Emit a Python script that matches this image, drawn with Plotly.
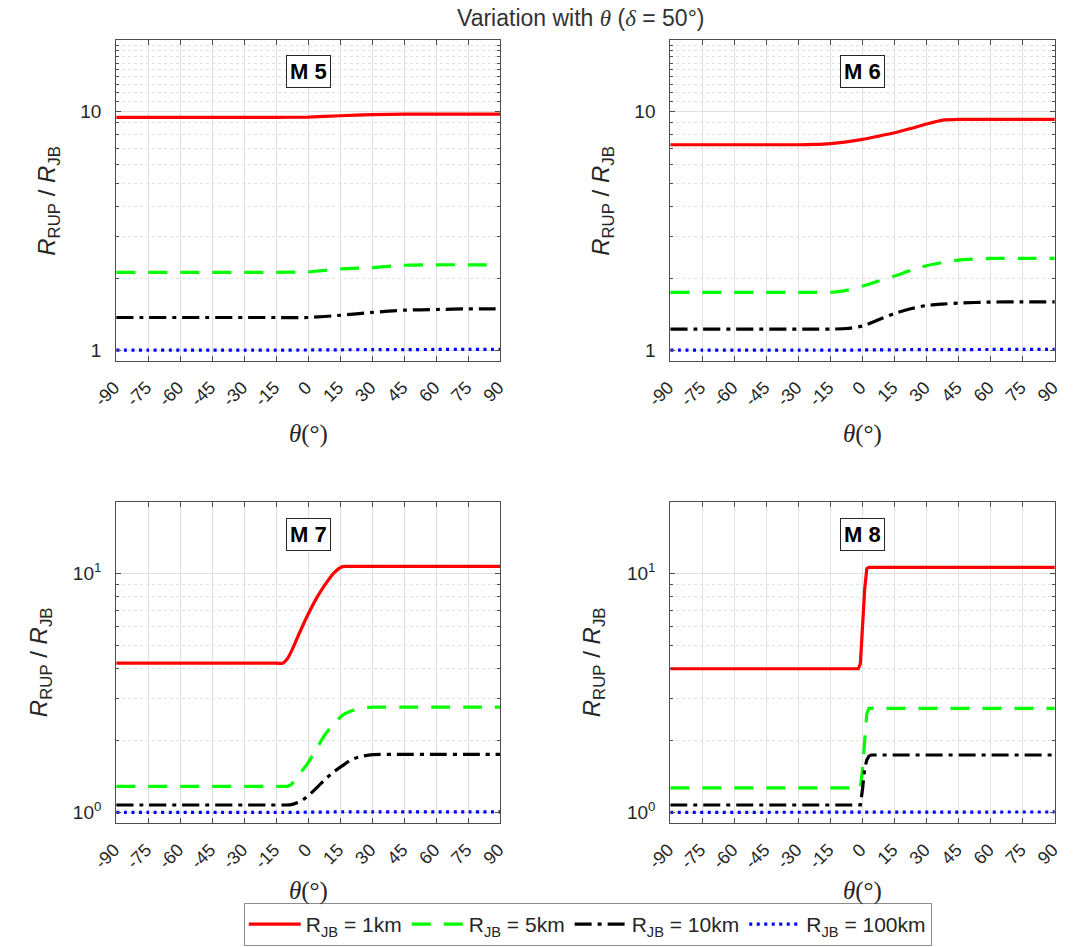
import math
import plotly.graph_objects as go

W, H = 1078, 947

# ---- data -------------------------------------------------------------
THETA_TICKS = [-90, -75, -60, -45, -30, -15, 0, 15, 30, 45, 60, 75, 90]
PANEL_TITLES = ["M 5", "M 6", "M 7", "M 8"]
SERIES_NAMES = ["R<sub>JB</sub> = 1km", "R<sub>JB</sub> = 5km",
                "R<sub>JB</sub> = 10km", "R<sub>JB</sub> = 100km"]

M5_THETA = [-90, -75, -60, -45, -30, -15, 0, 15, 30, 45, 60, 75, 90]
M5_R1 = [9.47, 9.47, 9.47, 9.47, 9.47, 9.47, 9.50, 9.62, 9.72, 9.77, 9.78, 9.78, 9.78]
M5_R5 = [2.12, 2.12, 2.12, 2.12, 2.12, 2.12, 2.13, 2.19, 2.22, 2.27, 2.28, 2.28, 2.28]
M5_R10 = [1.37, 1.37, 1.37, 1.37, 1.37, 1.37, 1.37, 1.40, 1.44, 1.47, 1.48, 1.49, 1.49]
M5_R100 = [1.0, 1.0, 1.0, 1.0, 1.0, 1.0, 1.001, 1.003, 1.004, 1.005, 1.006, 1.006, 1.006]

M6_THETA = [-90, -75, -60, -45, -30, -22.5, -15, -7.5, 0, 7.5, 15, 22.5, 30, 37.5, 45, 60, 75, 90]
M6_R1 = [7.27, 7.27, 7.27, 7.27, 7.27, 7.29, 7.35, 7.48, 7.66, 7.90, 8.16, 8.50, 8.88, 9.22, 9.29, 9.29, 9.29, 9.29]
M6_R5 = [1.746, 1.746, 1.746, 1.746, 1.746, 1.746, 1.746, 1.78, 1.856, 1.95, 2.045, 2.16, 2.26, 2.33, 2.386, 2.425, 2.425, 2.425]
M6_R10 = [1.225, 1.225, 1.225, 1.225, 1.225, 1.225, 1.225, 1.232, 1.261, 1.34, 1.426, 1.49, 1.54, 1.56, 1.575, 1.59, 1.593, 1.593]
M6_R100 = [1.0, 1.0, 1.0, 1.0, 1.0, 1.0, 1.0, 1.0, 1.001, 1.002, 1.003, 1.004, 1.004, 1.005, 1.005, 1.006, 1.006, 1.006]

M7_THETA = [-90, -75, -60, -45, -30, -15, -12, -10, -8, -4, 0, 4, 8, 12, 16, 20, 24, 30, 45, 60, 75, 90]
M7_R1 = [4.22, 4.22, 4.22, 4.22, 4.22, 4.22, 4.22, 4.38, 4.72, 5.69, 6.80, 7.95, 9.05, 10.1, 10.72, 10.74, 10.74, 10.74, 10.74, 10.74, 10.74, 10.74]
M7_R5 = [1.285, 1.285, 1.285, 1.285, 1.285, 1.285, 1.285, 1.285, 1.31, 1.45, 1.62, 1.86, 2.13, 2.36, 2.55, 2.66, 2.72, 2.76, 2.76, 2.76, 2.76, 2.76]
M7_R10 = [1.074, 1.074, 1.074, 1.074, 1.074, 1.074, 1.074, 1.074, 1.078, 1.109, 1.175, 1.27, 1.38, 1.48, 1.57, 1.66, 1.71, 1.746, 1.75, 1.75, 1.75, 1.75]
M7_R100 = [1.0, 1.0, 1.0, 1.0, 1.0, 1.0, 1.0, 1.0, 1.0, 1.001, 1.002, 1.003, 1.003, 1.004, 1.004, 1.005, 1.005, 1.005, 1.005, 1.005, 1.005, 1.005]

M8_THETA = [-90, -75, -60, -45, -30, -15, -2, -1, 0, 1, 2, 3, 4, 15, 30, 45, 60, 75, 90]
M8_R1 = [4.0, 4.0, 4.0, 4.0, 4.0, 4.0, 4.0, 4.2, 6.27, 8.6, 10.5, 10.65, 10.65, 10.65, 10.65, 10.65, 10.65, 10.65, 10.65]
M8_R5 = [1.266, 1.266, 1.266, 1.266, 1.266, 1.266, 1.266, 1.266, 1.52, 2.1, 2.59, 2.73, 2.73, 2.73, 2.73, 2.73, 2.73, 2.73, 2.73]
M8_R10 = [1.074, 1.074, 1.074, 1.074, 1.074, 1.074, 1.074, 1.074, 1.253, 1.52, 1.66, 1.72, 1.74, 1.74, 1.74, 1.74, 1.74, 1.74, 1.74]
M8_R100 = [1.0, 1.0, 1.0, 1.0, 1.0, 1.0, 1.0, 1.0, 1.002, 1.003, 1.003, 1.003, 1.004, 1.004, 1.004, 1.004, 1.004, 1.004, 1.004]

PANELS = [
    (M5_THETA, [M5_R1, M5_R5, M5_R10, M5_R100], "spline"),
    (M6_THETA, [M6_R1, M6_R5, M6_R10, M6_R100], "spline"),
    (M7_THETA, [M7_R1, M7_R5, M7_R10, M7_R100], "spline"),
    (M8_THETA, [M8_R1, M8_R5, M8_R10, M8_R100], "linear"),
]

# ---- styling ----------------------------------------------------------
LINE_STYLES = [
    dict(color="#ff0000", width=3.2, dash="solid"),
    dict(color="#00ff00", width=3.2, dash="19px,13px"),
    dict(color="#000000", width=3.2, dash="17px,6px,4px,6px"),
    dict(color="#0000ff", width=3.2, dash="3px,4.5px"),
]

AXIS_COL = "#4d4d4d"
TEXT_COL = "#262626"
GRID_COL = "#e0e0e0"
FONT = "Liberation Sans, Arial, sans-serif"
SERIF = "Liberation Serif, Times New Roman, serif"

# pixel boxes of the four plot areas: (left, right, top, bottom)
BOXES = [
    (94, 490, 40, 361),
    (665, 1061.3, 40, 361),
    (94, 490, 502, 823.3),
    (665, 1061.3, 502, 823.3),
]
YTITLE_X = [24, 595, 16, 586]
XTITLE_Y = [434, 434, 891, 891]

Y_RANGE = [math.log10(0.9), math.log10(20)]
MINOR_TOP = [2, 3, 4, 5, 6, 7, 8, 9, 11, 12, 13, 14, 15, 16, 17, 18, 19]
MINOR_BOTTOM = [2, 3, 4, 5, 6, 7, 8, 9]


def px_x(x):
    return x / W


def px_y(y):
    return 1 - y / H


def serif_italic(s):
    return f"<span style='font-family:{SERIF}'><i>{s}</i></span>"


fig = go.Figure()

for i, (theta, series, shape) in enumerate(PANELS):
    n = i + 1
    xa = "x" if n == 1 else f"x{n}"
    ya = "y" if n == 1 else f"y{n}"
    for j, vals in enumerate(series):
        line = dict(shape=shape, **LINE_STYLES[j])
        if shape == "spline":
            line["smoothing"] = 0.6
        fig.add_trace(go.Scatter(
            x=theta, y=vals, mode="lines", name=SERIES_NAMES[j], line=line,
            xaxis=xa, yaxis=ya, legendgroup=str(j), showlegend=(i == 0),
            hoverinfo="skip",
        ))

    l, r, t, b = BOXES[i]
    top_row = i < 2
    xkey = "xaxis" if n == 1 else f"xaxis{n}"
    ykey = "yaxis" if n == 1 else f"yaxis{n}"
    fig.update_layout(**{
        xkey: dict(
            domain=[px_x(l), px_x(r)], anchor=ya, range=[-90, 90],
            tickmode="array", tickvals=THETA_TICKS,
            ticktext=[str(v) for v in THETA_TICKS],
            tickangle=-45, ticks="inside", ticklen=5, tickcolor=AXIS_COL,
            ticklabelshift=-2, ticklabelstandoff=8,
            showline=True, linecolor=AXIS_COL, linewidth=1, mirror="ticks",
            showgrid=True, gridcolor=GRID_COL, gridwidth=1, zeroline=False,
            tickfont=dict(family=FONT, size=18, color=TEXT_COL),
            fixedrange=True,
        ),
        ykey: dict(
            domain=[px_y(b), px_y(t)], anchor=xa, type="log", range=Y_RANGE,
            tickmode="array", tickvals=[1, 10],
            ticktext=(["1", "10"] if top_row else ["10<sup>0</sup>", "10<sup>1</sup>"]),
            ticks="inside", ticklen=5, tickcolor=AXIS_COL,
            ticklabelstandoff=10,
            showline=True, linecolor=AXIS_COL, linewidth=1, mirror="ticks",
            showgrid=True, gridcolor=GRID_COL, gridwidth=1, zeroline=False,
            minor=dict(tickmode="array",
                       tickvals=MINOR_TOP if top_row else MINOR_BOTTOM,
                       ticks="inside", ticklen=3, tickcolor=AXIS_COL,
                       showgrid=True, gridcolor=GRID_COL, griddash="dot", gridwidth=1),
            tickfont=dict(family=FONT, size=19, color=TEXT_COL),
            fixedrange=True,
        ),
    })

    # magnitude label box
    fig.add_annotation(
        x=(l + r) / 2 / W, y=px_y(t + 32), xref="paper", yref="paper",
        text=f"<b>{PANEL_TITLES[i]}</b>", showarrow=False,
        font=dict(family=FONT, size=22, color="#000000"),
        bgcolor="#ffffff", bordercolor="#262626", borderwidth=1, borderpad=3,
        xanchor="center", yanchor="middle",
    )
    # y-axis title
    fig.add_annotation(
        x=px_x(YTITLE_X[i]), y=px_y((t + b) / 2), xref="paper", yref="paper",
        text="<i>R</i><sub>RUP</sub> / <i>R</i><sub>JB</sub>", textangle=-90,
        showarrow=False, font=dict(family=FONT, size=24, color=TEXT_COL),
        xanchor="center", yanchor="middle",
    )
    # x-axis title
    fig.add_annotation(
        x=(l + r) / 2 / W, y=px_y(XTITLE_Y[i]), xref="paper", yref="paper",
        text="<i>θ</i>(°)", showarrow=False,
        font=dict(family=SERIF, size=25, color=TEXT_COL),
        xanchor="center", yanchor="middle",
    )

# overall title
fig.add_annotation(
    x=px_x(573), y=px_y(18), xref="paper", yref="paper",
    text=f"Variation with {serif_italic('θ')} ({serif_italic('δ')} = 50°)",
    showarrow=False,
    font=dict(family=FONT, size=23, color="#333333"),
    xanchor="center", yanchor="middle",
)

fig.update_layout(
    width=W, height=H,
    margin=dict(l=0, r=0, t=0, b=0),
    paper_bgcolor="#ffffff", plot_bgcolor="#ffffff",
    showlegend=True,
    legend=dict(
        orientation="h", x=px_x(580), xanchor="center", y=px_y(903), yanchor="top",
        bgcolor="#ffffff", bordercolor="#8c8c8c", borderwidth=1,
        font=dict(family=FONT, size=21, color=TEXT_COL),
        itemwidth=52,
        itemclick=False, itemdoubleclick=False,
    ),
)

fig.write_html("out.html")
